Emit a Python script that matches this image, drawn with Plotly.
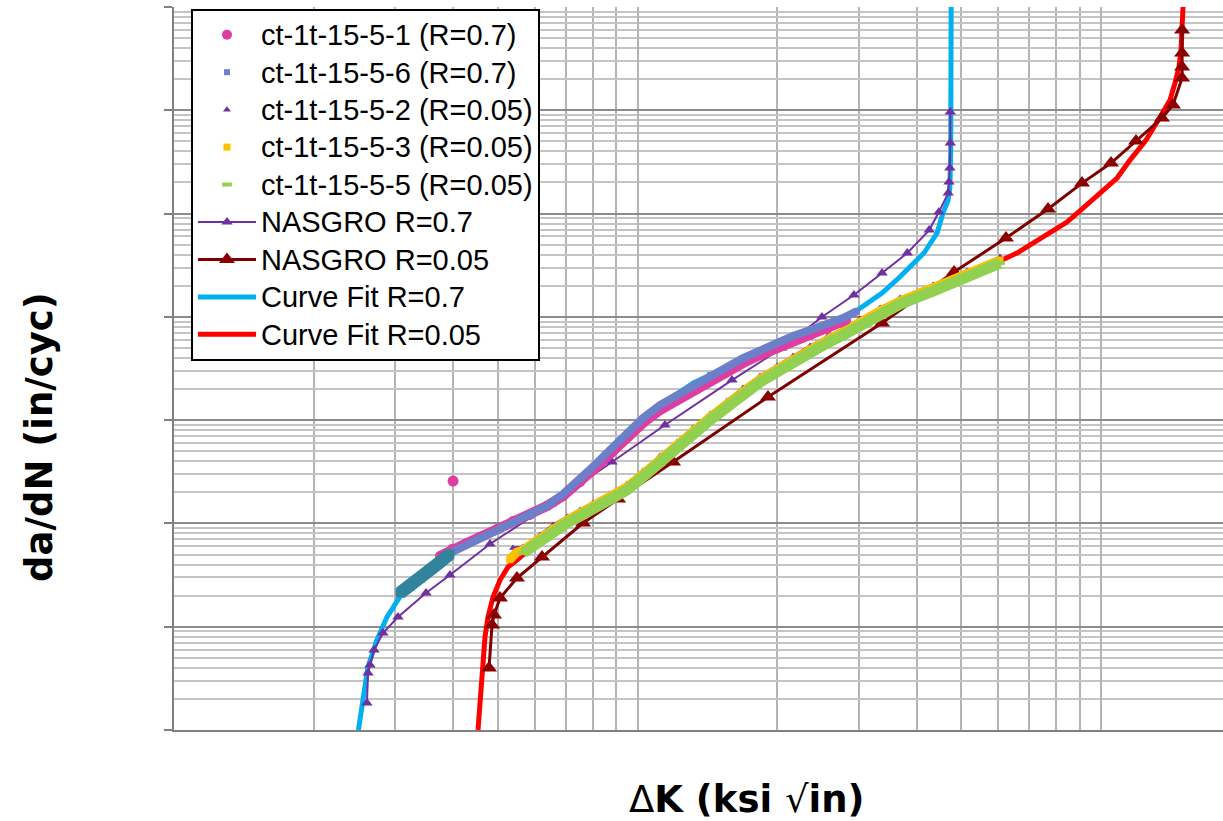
import plotly.graph_objects as go

# ---------------- data: da/dN (in/cycle) vs Delta K (ksi*sqrt(in)) ----------------
# test data, R = 0.7
ct1_dk = [3.749, 3.979, 4.287, 4.574, 4.977, 5.388, 5.863, 6.378, 6.908, 7.515, 8.017,
          8.72, 9.49, 10.27, 11.18, 12.17, 13.18, 14.34, 15.60, 16.89, 18.38, 20.0,
          21.66, 23.57, 25.64, 28.17]
ct1_dadn = [4.83e-8, 5.65e-8, 6.46e-8, 7.38e-8, 8.83e-8, 1.055e-7, 1.206e-7, 1.474e-7,
            1.841e-7, 2.50e-7, 3.288e-7, 4.70e-7, 6.86e-7, 9.37e-7, 1.253e-6, 1.565e-6,
            1.956e-6, 2.444e-6, 2.921e-6, 3.57e-6, 4.27e-6, 4.99e-6, 5.83e-6, 6.66e-6,
            7.62e-6, 9.31e-6]
ct1_out_dk = [4.0]
ct1_out_dadn = [2.574e-7]

ct6_dk = [3.979, 4.287, 4.574, 4.977, 5.388, 5.863, 6.378, 6.908, 7.515, 8.017, 8.72,
          9.49, 10.27, 11.18, 12.17, 13.18, 14.34, 15.60, 16.89, 18.38, 20.0, 21.66,
          23.57, 25.64, 27.76, 29.76]
ct6_dadn = [5.28e-8, 6.18e-8, 7.22e-8, 8.44e-8, 1.009e-7, 1.179e-7, 1.474e-7, 1.925e-7,
            2.65e-7, 3.55e-7, 5.14e-7, 7.50e-7, 1.048e-6, 1.400e-6, 1.750e-6, 2.186e-6,
            2.733e-6, 3.266e-6, 3.99e-6, 4.77e-6, 5.58e-6, 6.52e-6, 7.45e-6, 8.52e-6,
            9.74e-6, 1.138e-5]
ct6_low_dk = [3.073, 3.230, 3.395, 3.567, 3.749, 3.939]
ct6_low_dadn = [2.12e-8, 2.477e-8, 2.96e-8, 3.54e-8, 4.23e-8, 5.06e-8]

# test data, R = 0.05
ct2_dk = [5.388, 5.662, 6.161, 6.573, 7.047, 7.515, 8.017, 8.72, 9.49, 10.27, 11.18,
          12.17, 13.18, 14.34, 15.60, 16.89, 18.38, 20.0, 21.66, 23.57, 25.64, 27.76,
          30.2, 33.37, 36.84, 43.41, 51.39, 60.54]
ct2_dadn = [5.78e-8, 5.91e-8, 7.72e-8, 9.65e-8, 1.153e-7, 1.348e-7, 1.576e-7, 1.925e-7,
            2.406e-7, 3.216e-7, 4.49e-7, 6.14e-7, 8.39e-7, 1.146e-6, 1.530e-6, 2.045e-6,
            2.673e-6, 3.34e-6, 4.17e-6, 5.22e-6, 6.374e-6, 7.62e-6, 9.52e-6, 1.217e-5,
            1.521e-5, 2.031e-5, 2.776e-5, 3.793e-5]

ct3_dk = [5.30, 5.36, 5.495, 5.662, 6.161, 6.573, 7.047, 7.515, 8.017, 8.72, 9.49, 10.27,
          11.18, 12.17, 13.18, 14.34, 15.60, 16.89, 18.38, 20.0, 21.66, 23.57, 25.64,
          27.76, 30.2, 33.37, 36.84, 43.41, 51.39, 60.54]
ct3_dadn = [4.45e-8, 4.73e-8, 5.28e-8, 5.53e-8, 7.22e-8, 9.03e-8, 1.079e-7, 1.261e-7,
            1.474e-7, 1.801e-7, 2.251e-7, 3.007e-7, 4.20e-7, 5.74e-7, 7.84e-7, 1.072e-6,
            1.432e-6, 1.913e-6, 2.50e-6, 3.124e-6, 3.904e-6, 4.88e-6, 5.96e-6, 7.13e-6,
            8.91e-6, 1.138e-5, 1.422e-5, 1.90e-5, 2.596e-5, 3.548e-5]

ct5_dk = [5.662, 6.161, 6.573, 7.047, 7.515, 8.017, 8.72, 9.49, 10.27, 11.18, 12.17,
          13.18, 14.34, 15.60, 16.89, 18.38, 20.0, 21.66, 23.57, 25.64, 27.76, 30.2,
          33.37, 36.84, 43.41, 51.39, 60.54]
ct5_dadn = [5.17e-8, 6.76e-8, 8.44e-8, 1.009e-7, 1.179e-7, 1.378e-7, 1.684e-7, 2.105e-7,
            2.813e-7, 3.93e-7, 5.37e-7, 7.33e-7, 1.002e-6, 1.339e-6, 1.789e-6, 2.337e-6,
            2.921e-6, 3.65e-6, 4.562e-6, 5.58e-6, 6.66e-6, 8.33e-6, 1.064e-5, 1.330e-5,
            1.778e-5, 2.428e-5, 3.317e-5]

# NASGRO predictions
nas07_dk = [2.608, 2.622, 2.648, 2.701, 2.824, 3.043, 3.497, 3.939, 4.806, 6.508, 8.81,
            11.46, 15.99, 20.5, 25.0, 29.3, 33.7, 38.2, 42.6, 44.7, 46.8, 47.0, 47.2,
            47.3, 47.3]
nas07_dadn = [1.826e-9, 3.562e-9, 4.26e-9, 5.95e-9, 8.69e-9, 1.241e-8, 2.12e-8, 3.166e-8,
              6.32e-8, 1.541e-7, 3.93e-7, 8.97e-7, 2.444e-6, 4.99e-6, 9.96e-6, 1.626e-5,
              2.655e-5, 4.146e-5, 6.92e-5, 1.034e-4, 1.579e-4, 2.018e-4, 2.757e-4,
              4.813e-4, 9.61e-4]

nas005_dk = [4.782, 4.855, 4.903, 5.051, 5.495, 6.223, 7.63, 9.08, 11.93, 19.12, 33.70,
             48.18, 62.37, 76.87, 91.0, 105.1, 119.0, 135.4, 143.0, 149.6, 149.6, 149.6,
             149.6]
nas005_dadn = [3.98e-9, 1.039e-8, 1.298e-8, 1.896e-8, 2.96e-8, 4.73e-8, 1.009e-7,
               1.722e-7, 3.93e-7, 1.674e-6, 8.71e-6, 2.715e-5, 5.79e-5, 1.106e-4,
               1.973e-4, 3.083e-4, 5.03e-4, 8.41e-4, 1.123e-3, 2.05e-3, 2.62e-3,
               3.58e-3, 5.98e-3]

# curve fits
fit07_dk = [2.50, 2.56, 2.62, 2.74, 2.88, 3.07, 3.48, 3.98, 4.57, 5.39, 6.38, 7.52, 8.02,
            9.49, 10.8, 13.2, 15.6, 18.4, 21.7, 25.6, 29.2, 33.7, 36.8, 41.5, 44.3, 45.6,
            46.8, 47.2, 47.4, 47.5, 47.5]
fit07_dadn = [1.0e-9, 1.95e-9, 4.07e-9, 7.43e-9, 1.24e-8, 1.94e-8, 3.17e-8, 5.53e-8,
              7.72e-8, 1.03e-7, 1.58e-7, 2.46e-7, 3.52e-7, 7.50e-7, 1.25e-6, 2.29e-6,
              3.27e-6, 4.56e-6, 6.37e-6, 8.71e-6, 1.09e-5, 1.70e-5, 2.43e-5, 4.15e-5,
              6.48e-5, 1.01e-4, 1.35e-4, 1.81e-4, 4.12e-4, 1.26e-3, 1.0e-2]

fit005_dk = [4.528, 4.574, 4.619, 4.688, 4.758, 4.879, 5.051, 5.256, 5.495, 6.161, 7.047,
             8.017, 9.49, 11.18, 13.18, 15.60, 18.38, 21.66, 25.64, 30.2, 36.84, 43.41,
             51.39, 60.54, 65.89, 71.36, 77.62, 84.47, 91.46, 99.5, 108.3, 115.5, 125.1,
             134.1, 140.9, 144.4, 147.3, 148.8, 149.6, 150.3]
fit005_dadn = [1.0e-9, 1.826e-9, 3.26e-9, 7.95e-9, 1.241e-8, 1.939e-8, 2.832e-8, 3.784e-8,
               4.42e-8, 6.91e-8, 1.055e-7, 1.474e-7, 2.301e-7, 4.30e-7, 7.84e-7, 1.432e-6,
               2.50e-6, 3.904e-6, 5.83e-6, 8.71e-6, 1.422e-5, 1.858e-5, 2.539e-5,
               3.468e-5, 4.146e-5, 5.18e-5, 6.476e-5, 8.27e-5, 1.130e-4, 1.579e-4,
               2.207e-4, 3.296e-4, 5.145e-4, 8.60e-4, 1.256e-3, 1.834e-3, 2.62e-3,
               3.83e-3, 5.59e-3, 1.0e-2]

legend_names = ["ct-1t-15-5-1 (R=0.7)", "ct-1t-15-5-6 (R=0.7)", "ct-1t-15-5-2 (R=0.05)",
                "ct-1t-15-5-3 (R=0.05)", "ct-1t-15-5-5 (R=0.05)", "NASGRO R=0.7",
                "NASGRO R=0.05", "Curve Fit R=0.7", "Curve Fit R=0.05"]

PINK = "#DE3DA2"
BLUE = "#6C7FC9"
TEAL = "#31849B"
PURPLE = "#7030A0"
GOLD = "#FFC000"
GREEN = "#92D050"
DARKRED = "#7F0000"
CYAN = "#00B0F0"
RED = "#FF0000"


def label(s):
    # legend text is set a little larger than the row pitch implies
    return '<span style="font-size:29px">' + s + '</span>'


fig = go.Figure()

# curve fits (drawn underneath)
fig.add_trace(go.Scatter(x=fit07_dk, y=fit07_dadn, mode="lines", name=label(legend_names[7]),
                         line=dict(color=CYAN, width=5), legendrank=8))
fig.add_trace(go.Scatter(x=fit005_dk, y=fit005_dadn, mode="lines", name=label(legend_names[8]),
                         line=dict(color=RED, width=5), legendrank=9))

# NASGRO lines
fig.add_trace(go.Scatter(x=nas07_dk, y=nas07_dadn, mode="lines+markers",
                         name=label(legend_names[5]),
                         line=dict(color=PURPLE, width=2),
                         marker=dict(symbol="triangle-up", size=10, color=PURPLE),
                         legendrank=6))
fig.add_trace(go.Scatter(x=nas005_dk, y=nas005_dadn, mode="lines+markers",
                         name=label(legend_names[6]),
                         line=dict(color=DARKRED, width=3),
                         marker=dict(symbol="triangle-up", size=14, color="#8B0000"),
                         legendrank=7))


def data_series(dk, dadn, color, band, symbol, size, name, rank, mline=None):
    # dense test records render as a continuous band of markers
    fig.add_trace(go.Scatter(x=dk, y=dadn, mode="lines", showlegend=False,
                             line=dict(color=color, width=band), hoverinfo="skip"))
    mk = dict(symbol=symbol, size=size, color=color)
    if mline:
        mk["line"] = mline
    fig.add_trace(go.Scatter(x=dk, y=dadn, mode="markers", name=label(name), marker=mk,
                             legendrank=rank))


data_series(ct2_dk, ct2_dadn, PURPLE, 3, "triangle-up", 7, legend_names[2], 3)
data_series(ct3_dk, ct3_dadn, GOLD, 9, "square", 7, legend_names[3], 4)
data_series(ct5_dk, ct5_dadn, GREEN, 11, "line-ew", 7, legend_names[4], 5,
            mline=dict(color=GREEN, width=4))
data_series(ct1_dk, ct1_dadn, PINK, 10, "circle", 10, legend_names[0], 1)
fig.add_trace(go.Scatter(x=ct1_out_dk, y=ct1_out_dadn, mode="markers", showlegend=False,
                         marker=dict(symbol="circle", size=11, color=PINK)))
data_series(ct6_dk, ct6_dadn, BLUE, 8, "square", 6, legend_names[1], 2)
fig.add_trace(go.Scatter(x=ct6_low_dk, y=ct6_low_dadn, mode="lines+markers", showlegend=False,
                         line=dict(color=TEAL, width=13),
                         marker=dict(symbol="square", size=9, color=TEAL)))

# axis titles
fig.add_annotation(text="Δ<b>K (ksi </b>√<b>in)</b>", xref="paper", yref="paper",
                   x=0.5453, y=-0.0968, xanchor="center", yanchor="middle", showarrow=False,
                   font=dict(family="DejaVu Sans", size=37, color="black"))
fig.add_annotation(text="<b>da/dN (in/cyc)</b>", xref="paper", yref="paper",
                   x=-0.1277, y=0.4053, xanchor="center", yanchor="middle", showarrow=False,
                   textangle=-90,
                   font=dict(family="DejaVu Sans", size=37, color="black"))

fig.update_layout(
    width=1223, height=821,
    margin=dict(l=174, r=0, t=7, b=91),
    paper_bgcolor="white", plot_bgcolor="white",
    font=dict(family="Liberation Sans, Arial, sans-serif", color="black"),
    showlegend=True,
    legend=dict(x=0.0162, y=0.9972, xanchor="left", yanchor="top",
                bgcolor="white", bordercolor="black", borderwidth=2,
                font=dict(family="Liberation Sans, Arial, sans-serif", size=26.5, color="black"),
                itemwidth=58, tracegroupgap=0),
    hovermode=False,
)

fig.update_xaxes(type="log", range=[0, 2.2632], showticklabels=False, ticks="",
                 showline=True, linecolor="#808080", linewidth=2,
                 showgrid=True, gridcolor="#B4B4B4", gridwidth=1.5, dtick=1,
                 minor=dict(dtick="D1", showgrid=True, gridcolor="#B4B4B4", gridwidth=1.5,
                            ticks=""),
                 zeroline=False)
fig.update_yaxes(type="log", range=[-9, -2], showticklabels=False, ticks="outside",
                 ticklen=8, tickwidth=2, tickcolor="#808080",
                 showline=True, linecolor="#808080", linewidth=2,
                 showgrid=True, gridcolor="#8C8C8C", gridwidth=2, dtick=1,
                 minor=dict(dtick="D1", showgrid=True, gridcolor="#C4C4C4", gridwidth=1.5,
                            ticks=""),
                 zeroline=False)

fig.write_html("out.html")
